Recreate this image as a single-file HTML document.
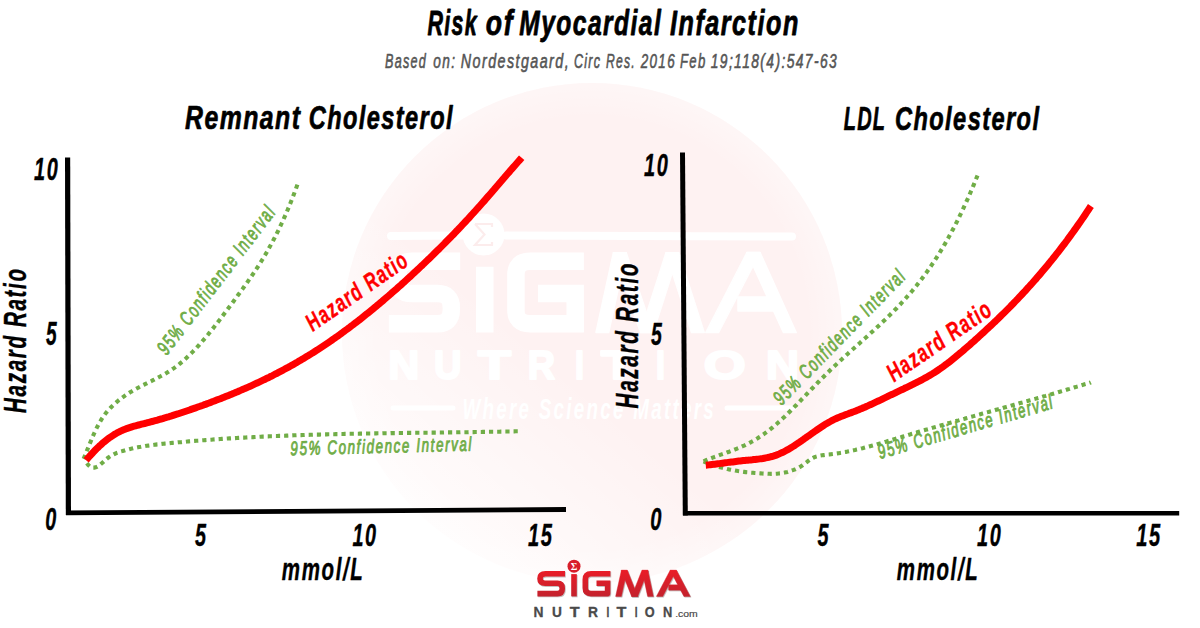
<!DOCTYPE html>
<html><head><meta charset="utf-8"><style>html,body{margin:0;padding:0;background:#fff;width:1200px;height:628px;overflow:hidden}svg{display:block}</style></head>
<body><svg width="1200" height="628" viewBox="0 0 1200 628" font-family='"Liberation Sans", sans-serif'><defs><linearGradient id="fadeLL" x1="0.12" y1="0.9" x2="0.42" y2="0.55"><stop offset="0" stop-color="#fff" stop-opacity="0.85"/><stop offset="0.5" stop-color="#fff" stop-opacity="0.45"/><stop offset="1" stop-color="#fff" stop-opacity="0"/></linearGradient><radialGradient id="edge" cx="0.5" cy="0.5" r="0.5"><stop offset="0.86" stop-color="#fff" stop-opacity="0"/><stop offset="1" stop-color="#fff" stop-opacity="0.35"/></radialGradient></defs>
<circle cx="592" cy="333" r="250" fill="#fef2f2"/>
<circle cx="592" cy="333" r="250" fill="url(#edge)"/>
<circle cx="592" cy="333" r="251" fill="url(#fadeLL)"/>
<path d="M391 236 L462 235.5 M506 235.5 L792 236.5" stroke="#fff" stroke-width="8" stroke-linecap="round" fill="none"/>
<path d="M393 408 L453 408 M727 408 L794 408" stroke="#fff" stroke-width="5" stroke-linecap="round" fill="none"/>
<g fill="none" stroke="#fff" stroke-width="17.5"><path d="M460.2 261.2 H412 Q397.8 261.2 397.8 275 V279.8 Q397.8 293.6 412 293.6 H437.5 Q451.3 293.6 451.3 307.5 V309.8 Q451.3 323.7 437.5 323.7 H388.9"/><path d="M484.75 266.8 V332.6"/><path d="M583.9 261.2 H530 Q515.9 261.2 515.9 275 V310 Q515.9 323.7 530 323.7 H575.2 V300 M583.9 293.6 H538"/></g>
<g fill="#fff" stroke="#fff" stroke-width="1.5" stroke-linejoin="round"><polygon points="596,332.4 613.4,252.7 626.2,252.7 608.7,332.4"/><polygon points="613.4,252.7 626.2,252.7 653.2,332.4 640.5,332.4"/><polygon points="640.5,332.4 653.2,332.4 678.7,252.7 666,252.7"/><polygon points="666,252.7 678.7,252.7 704.2,332.4 691.5,332.4"/><polygon points="705.8,332.6 747,252.4 760,252.4 718.5,332.6"/><polygon points="747,252.4 760,252.4 796.2,332.6 783.5,332.6"/><polygon points="738,297 776,297 776,311 738,311"/></g>
<circle cx="483.6" cy="234.5" r="21" fill="#fff"/>
<path d="M475 224 H492 L492 227 M475 224 L484.5 234.5 L475 245 H492 V242" stroke="#fcecec" stroke-width="2.2" fill="none"/>
<g transform="translate(388.30 378.60)"><text x="0" y="0" font-size="41.57" font-weight="bold" font-style="normal" fill="#ffffff" stroke="#ffffff" stroke-width="2.20" stroke-linejoin="round" textLength="31.0" lengthAdjust="spacingAndGlyphs">N</text></g>
<g transform="translate(434.00 378.60)"><text x="0" y="0" font-size="41.57" font-weight="bold" font-style="normal" fill="#ffffff" stroke="#ffffff" stroke-width="2.20" stroke-linejoin="round" textLength="27.5" lengthAdjust="spacingAndGlyphs">U</text></g>
<g transform="translate(478.00 378.60)"><text x="0" y="0" font-size="41.57" font-weight="bold" font-style="normal" fill="#ffffff" stroke="#ffffff" stroke-width="2.20" stroke-linejoin="round" textLength="33.0" lengthAdjust="spacingAndGlyphs">T</text></g>
<g transform="translate(527.70 378.60)"><text x="0" y="0" font-size="41.57" font-weight="bold" font-style="normal" fill="#ffffff" stroke="#ffffff" stroke-width="2.20" stroke-linejoin="round" textLength="27.3" lengthAdjust="spacingAndGlyphs">R</text></g>
<g transform="translate(575.00 378.60)"><text x="0" y="0" font-size="41.57" font-weight="bold" font-style="normal" fill="#ffffff" stroke="#ffffff" stroke-width="2.20" stroke-linejoin="round" textLength="9.0" lengthAdjust="spacingAndGlyphs">I</text></g>
<g transform="translate(601.00 378.60)"><text x="0" y="0" font-size="41.57" font-weight="bold" font-style="normal" fill="#ffffff" stroke="#ffffff" stroke-width="2.20" stroke-linejoin="round" textLength="34.7" lengthAdjust="spacingAndGlyphs">T</text></g>
<g transform="translate(656.00 378.60)"><text x="0" y="0" font-size="41.57" font-weight="bold" font-style="normal" fill="#ffffff" stroke="#ffffff" stroke-width="2.20" stroke-linejoin="round" textLength="9.0" lengthAdjust="spacingAndGlyphs">I</text></g>
<g transform="translate(703.70 378.60)"><text x="0" y="0" font-size="41.57" font-weight="bold" font-style="normal" fill="#ffffff" stroke="#ffffff" stroke-width="2.20" stroke-linejoin="round" textLength="42.0" lengthAdjust="spacingAndGlyphs">O</text></g>
<g transform="translate(766.00 378.60)"><text x="0" y="0" font-size="41.57" font-weight="bold" font-style="normal" fill="#ffffff" stroke="#ffffff" stroke-width="2.20" stroke-linejoin="round" textLength="33.0" lengthAdjust="spacingAndGlyphs">N</text></g>
<g transform="translate(462.50 418.80)"><text x="0" y="0" font-size="29.07" font-weight="bold" font-style="italic" fill="#ffffff" letter-spacing="3.49" textLength="253.5" lengthAdjust="spacingAndGlyphs">Where Science Matters</text></g>
<g transform="translate(427.50 35.00)"><text x="0" y="0" font-size="34.88" font-weight="bold" font-style="italic" fill="#000" stroke="#000" stroke-width="0.80" stroke-linejoin="round" letter-spacing="2.09" textLength="50.5" lengthAdjust="spacingAndGlyphs">Risk</text></g>
<g transform="translate(485.80 35.00)"><text x="0" y="0" font-size="34.88" font-weight="bold" font-style="italic" fill="#000" stroke="#000" stroke-width="0.80" stroke-linejoin="round" letter-spacing="2.09" textLength="28.3" lengthAdjust="spacingAndGlyphs">of</text></g>
<g transform="translate(519.20 35.00)"><text x="0" y="0" font-size="34.88" font-weight="bold" font-style="italic" fill="#000" stroke="#000" stroke-width="0.80" stroke-linejoin="round" letter-spacing="2.09" textLength="143.1" lengthAdjust="spacingAndGlyphs">Myocardial</text></g>
<g transform="translate(670.00 35.00)"><text x="0" y="0" font-size="34.88" font-weight="bold" font-style="italic" fill="#000" stroke="#000" stroke-width="0.80" stroke-linejoin="round" letter-spacing="2.09" textLength="129.8" lengthAdjust="spacingAndGlyphs">Infarction</text></g>
<g transform="translate(385.00 68.30)"><text x="0" y="0" font-size="19.91" font-weight="normal" font-style="italic" fill="#555555" stroke="#555555" stroke-width="0.60" stroke-linejoin="round" letter-spacing="1.99" textLength="42.1" lengthAdjust="spacingAndGlyphs">Based</text></g>
<g transform="translate(433.30 68.30)"><text x="0" y="0" font-size="19.91" font-weight="normal" font-style="italic" fill="#555555" stroke="#555555" stroke-width="0.60" stroke-linejoin="round" letter-spacing="1.99" textLength="23.1" lengthAdjust="spacingAndGlyphs">on:</text></g>
<g transform="translate(460.80 68.30)"><text x="0" y="0" font-size="19.91" font-weight="normal" font-style="italic" fill="#555555" stroke="#555555" stroke-width="0.60" stroke-linejoin="round" letter-spacing="1.99" textLength="109.3" lengthAdjust="spacingAndGlyphs">Nordestgaard,</text></g>
<g transform="translate(574.00 68.30)"><text x="0" y="0" font-size="19.91" font-weight="normal" font-style="italic" fill="#555555" stroke="#555555" stroke-width="0.60" stroke-linejoin="round" letter-spacing="1.99" textLength="27.3" lengthAdjust="spacingAndGlyphs">Circ</text></g>
<g transform="translate(606.00 68.30)"><text x="0" y="0" font-size="19.91" font-weight="normal" font-style="italic" fill="#555555" stroke="#555555" stroke-width="0.60" stroke-linejoin="round" letter-spacing="1.99" textLength="29.9" lengthAdjust="spacingAndGlyphs">Res.</text></g>
<g transform="translate(640.70 68.30)"><text x="0" y="0" font-size="19.91" font-weight="normal" font-style="italic" fill="#555555" stroke="#555555" stroke-width="0.60" stroke-linejoin="round" letter-spacing="1.99" textLength="35.3" lengthAdjust="spacingAndGlyphs">2016</text></g>
<g transform="translate(680.00 68.30)"><text x="0" y="0" font-size="19.91" font-weight="normal" font-style="italic" fill="#555555" stroke="#555555" stroke-width="0.60" stroke-linejoin="round" letter-spacing="1.99" textLength="26.6" lengthAdjust="spacingAndGlyphs">Feb</text></g>
<g transform="translate(710.70 68.30)"><text x="0" y="0" font-size="19.91" font-weight="normal" font-style="italic" fill="#555555" stroke="#555555" stroke-width="0.60" stroke-linejoin="round" letter-spacing="1.99" textLength="127.4" lengthAdjust="spacingAndGlyphs">19;118(4):547-63</text></g>
<g transform="translate(185.00 129.30)"><text x="0" y="0" font-size="33.43" font-weight="bold" font-style="italic" fill="#000" stroke="#000" stroke-width="0.70" stroke-linejoin="round" letter-spacing="2.01" textLength="116.5" lengthAdjust="spacingAndGlyphs">Remnant</text></g>
<g transform="translate(308.75 129.30)"><text x="0" y="0" font-size="33.43" font-weight="bold" font-style="italic" fill="#000" stroke="#000" stroke-width="0.70" stroke-linejoin="round" letter-spacing="2.01" textLength="145.2" lengthAdjust="spacingAndGlyphs">Cholesterol</text></g>
<g transform="translate(843.75 129.50)"><text x="0" y="0" font-size="33.43" font-weight="bold" font-style="italic" fill="#000" stroke="#000" stroke-width="0.70" stroke-linejoin="round" letter-spacing="2.01" textLength="42.4" lengthAdjust="spacingAndGlyphs">LDL</text></g>
<g transform="translate(895.00 129.50)"><text x="0" y="0" font-size="33.43" font-weight="bold" font-style="italic" fill="#000" stroke="#000" stroke-width="0.70" stroke-linejoin="round" letter-spacing="2.01" textLength="145.4" lengthAdjust="spacingAndGlyphs">Cholesterol</text></g>
<path d="M67.6 157.6 L68.4 515" stroke="#000" stroke-width="5.2" fill="none"/>
<path d="M66 512.9 L566 509.5" stroke="#000" stroke-width="4.8" fill="none"/>
<path d="M682.5 152.4 L685.3 515.6" stroke="#000" stroke-width="5" fill="none"/>
<path d="M683 513.3 L1179.2 513.3" stroke="#000" stroke-width="4.6" fill="none"/>
<g transform="translate(34.00 180.00)"><text x="0" y="0" font-size="31.98" font-weight="bold" font-style="italic" fill="#000" stroke="#000" stroke-width="0.40" stroke-linejoin="round" letter-spacing="2.56" textLength="25.3" lengthAdjust="spacingAndGlyphs">10</text></g>
<g transform="translate(45.90 345.30)"><text x="0" y="0" font-size="33.28" font-weight="bold" font-style="italic" fill="#000" stroke="#000" stroke-width="0.40" stroke-linejoin="round" letter-spacing="2.66" textLength="12.2" lengthAdjust="spacingAndGlyphs">5</text></g>
<g transform="translate(45.30 530.00)"><text x="0" y="0" font-size="31.98" font-weight="bold" font-style="italic" fill="#000" stroke="#000" stroke-width="0.40" stroke-linejoin="round" letter-spacing="2.56" textLength="12.6" lengthAdjust="spacingAndGlyphs">0</text></g>
<g transform="translate(195.00 546.20)"><text x="0" y="0" font-size="31.54" font-weight="bold" font-style="italic" fill="#000" stroke="#000" stroke-width="0.40" stroke-linejoin="round" letter-spacing="2.52" textLength="12.6" lengthAdjust="spacingAndGlyphs">5</text></g>
<g transform="translate(352.40 545.80)"><text x="0" y="0" font-size="30.96" font-weight="bold" font-style="italic" fill="#000" stroke="#000" stroke-width="0.40" stroke-linejoin="round" letter-spacing="2.48" textLength="25.2" lengthAdjust="spacingAndGlyphs">10</text></g>
<g transform="translate(528.00 546.00)"><text x="0" y="0" font-size="32.27" font-weight="bold" font-style="italic" fill="#000" stroke="#000" stroke-width="0.40" stroke-linejoin="round" letter-spacing="2.58" textLength="25.6" lengthAdjust="spacingAndGlyphs">15</text></g>
<g transform="translate(644.00 176.00)"><text x="0" y="0" font-size="31.54" font-weight="bold" font-style="italic" fill="#000" stroke="#000" stroke-width="0.40" stroke-linejoin="round" letter-spacing="2.52" textLength="25.4" lengthAdjust="spacingAndGlyphs">10</text></g>
<g transform="translate(651.00 344.80)"><text x="0" y="0" font-size="31.69" font-weight="bold" font-style="italic" fill="#000" stroke="#000" stroke-width="0.40" stroke-linejoin="round" letter-spacing="2.53" textLength="12.4" lengthAdjust="spacingAndGlyphs">5</text></g>
<g transform="translate(650.20 529.90)"><text x="0" y="0" font-size="31.83" font-weight="bold" font-style="italic" fill="#000" stroke="#000" stroke-width="0.40" stroke-linejoin="round" letter-spacing="2.55" textLength="12.8" lengthAdjust="spacingAndGlyphs">0</text></g>
<g transform="translate(817.40 546.20)"><text x="0" y="0" font-size="31.54" font-weight="bold" font-style="italic" fill="#000" stroke="#000" stroke-width="0.40" stroke-linejoin="round" letter-spacing="2.52" textLength="12.6" lengthAdjust="spacingAndGlyphs">5</text></g>
<g transform="translate(977.00 545.80)"><text x="0" y="0" font-size="30.96" font-weight="bold" font-style="italic" fill="#000" stroke="#000" stroke-width="0.40" stroke-linejoin="round" letter-spacing="2.48" textLength="25.3" lengthAdjust="spacingAndGlyphs">10</text></g>
<g transform="translate(1136.20 545.70)"><text x="0" y="0" font-size="31.54" font-weight="bold" font-style="italic" fill="#000" stroke="#000" stroke-width="0.40" stroke-linejoin="round" letter-spacing="2.52" textLength="25.6" lengthAdjust="spacingAndGlyphs">15</text></g>
<g transform="translate(281.80 579.60)"><text x="0" y="0" font-size="30.52" font-weight="bold" font-style="italic" fill="#000" stroke="#000" stroke-width="0.40" stroke-linejoin="round" letter-spacing="2.44" textLength="82.7" lengthAdjust="spacingAndGlyphs">mmol/L</text></g>
<g transform="translate(896.80 580.00)"><text x="0" y="0" font-size="30.52" font-weight="bold" font-style="italic" fill="#000" stroke="#000" stroke-width="0.40" stroke-linejoin="round" letter-spacing="2.44" textLength="82.6" lengthAdjust="spacingAndGlyphs">mmol/L</text></g>
<g transform="translate(26.00 412.90) rotate(-90.00)"><text x="0" y="0" font-size="31.98" font-weight="bold" font-style="italic" fill="#000" stroke="#000" stroke-width="0.40" stroke-linejoin="round" letter-spacing="2.56" textLength="145.6" lengthAdjust="spacingAndGlyphs">Hazard Ratio</text></g>
<g transform="translate(638.00 408.50) rotate(-90.00)"><text x="0" y="0" font-size="30.52" font-weight="bold" font-style="italic" fill="#000" stroke="#000" stroke-width="0.40" stroke-linejoin="round" letter-spacing="2.44" textLength="146.7" lengthAdjust="spacingAndGlyphs">Hazard Ratio</text></g>
<path d="M83.6 458.9 L85.1 455.3 L86.6 451.6 L88.1 447.8 L89.6 444.1 L91.1 440.5 L92.6 436.9 L94.1 433.5 L95.6 430.2 L97.1 427.2 L98.6 424.3 L100.1 421.7 L101.6 419.2 L103.1 416.9 L104.6 414.8 L106.1 412.8 L107.6 411.0 L109.1 409.3 L110.6 407.7 L112.1 406.2 L113.6 404.8 L115.1 403.4 L116.6 402.1 L118.1 400.8 L119.6 399.6 L121.1 398.5 L122.6 397.4 L124.1 396.3 L125.6 395.2 L127.1 394.2 L128.6 393.3 L130.1 392.3 L131.6 391.4 L133.1 390.5 L134.6 389.7 L136.1 388.8 L137.6 388.0 L139.1 387.2 L140.6 386.4 L142.1 385.6 L143.6 384.9 L145.1 384.1 L146.6 383.4 L148.1 382.6 L149.6 381.9 L151.1 381.2 L152.6 380.4 L154.1 379.7 L155.6 378.9 L157.1 378.1 L158.6 377.3 L160.1 376.5 L161.6 375.7 L163.1 374.9 L164.6 374.1 L166.1 373.2 L167.6 372.3 L169.1 371.3 L170.6 370.4 L172.1 369.4 L173.6 368.4 L175.1 367.3 L176.6 366.2 L178.1 365.1 L179.6 363.9 L181.1 362.6 L182.6 361.4 L184.1 360.1 L185.6 358.7 L187.1 357.3 L188.6 355.9 L190.1 354.4 L191.6 352.9 L193.1 351.4 L194.6 349.8 L196.1 348.2 L197.6 346.6 L199.1 345.0 L200.6 343.3 L202.1 341.6 L203.6 339.8 L205.1 338.1 L206.6 336.3 L208.1 334.5 L209.6 332.6 L211.1 330.8 L212.6 328.9 L214.1 327.0 L215.6 325.1 L217.1 323.2 L218.6 321.2 L220.1 319.3 L221.6 317.3 L223.1 315.3 L224.6 313.3 L226.1 311.3 L227.6 309.3 L229.1 307.3 L230.6 305.3 L232.1 303.2 L233.6 301.2 L235.1 299.1 L236.6 297.1 L238.1 295.0 L239.6 293.0 L241.1 290.9 L242.6 288.9 L244.1 286.8 L245.6 284.7 L247.1 282.6 L248.6 280.4 L250.1 278.3 L251.6 276.1 L253.1 273.9 L254.6 271.7 L256.1 269.4 L257.6 267.1 L259.1 264.8 L260.6 262.4 L262.1 260.0 L263.6 257.5 L265.1 255.0 L266.6 252.4 L268.1 249.8 L269.6 247.1 L271.1 244.4 L272.6 241.6 L274.1 238.8 L275.6 235.9 L277.1 232.9 L278.6 229.9 L280.1 226.7 L281.6 223.5 L283.1 220.3 L284.6 216.9 L286.1 213.5 L287.6 210.0 L289.1 206.4 L290.6 202.7 L292.1 198.9 L293.6 195.0 L295.1 191.0 L296.6 186.9 L298.1 182.8 L298.6 181.4" stroke="#70ad47" stroke-width="4.1" stroke-dasharray="4.2 4" fill="none"/>
<path d="M86.8 463.2 L88.3 465.1 L89.8 466.4 L91.3 467.2 L92.8 467.6 L94.3 467.6 L95.8 467.3 L97.3 466.7 L98.8 465.8 L100.3 464.6 L101.8 463.3 L103.3 461.9 L104.8 460.5 L106.3 459.2 L107.8 458.0 L109.3 456.9 L110.8 455.9 L112.3 455.1 L113.8 454.3 L115.3 453.6 L116.8 452.9 L118.3 452.4 L119.8 451.8 L121.3 451.4 L122.8 450.9 L124.3 450.5 L125.8 450.0 L127.3 449.6 L128.8 449.3 L130.3 448.9 L131.8 448.6 L133.3 448.2 L134.8 447.9 L136.3 447.6 L137.8 447.3 L139.3 447.0 L140.8 446.8 L142.3 446.5 L143.8 446.3 L145.3 446.0 L146.8 445.8 L148.3 445.6 L149.8 445.4 L151.3 445.2 L152.8 445.0 L154.3 444.8 L155.8 444.6 L157.3 444.4 L158.8 444.3 L160.3 444.1 L161.8 443.9 L163.3 443.8 L164.8 443.6 L166.3 443.5 L167.8 443.3 L169.3 443.2 L170.8 443.0 L172.3 442.9 L173.8 442.8 L175.3 442.6 L176.8 442.5 L178.3 442.3 L179.8 442.2 L181.3 442.1 L182.8 441.9 L184.3 441.8 L185.8 441.7 L187.3 441.5 L188.8 441.4 L190.3 441.3 L191.8 441.2 L193.3 441.0 L194.8 440.9 L196.3 440.8 L197.8 440.7 L199.3 440.6 L200.8 440.4 L202.3 440.3 L203.8 440.2 L205.3 440.1 L206.8 440.0 L208.3 439.9 L209.8 439.8 L211.3 439.7 L212.8 439.5 L214.3 439.4 L215.8 439.3 L217.3 439.2 L218.8 439.1 L220.3 439.0 L221.8 438.9 L223.3 438.8 L224.8 438.7 L226.3 438.6 L227.8 438.5 L229.3 438.4 L230.8 438.4 L232.3 438.3 L233.8 438.2 L235.3 438.1 L236.8 438.0 L238.3 437.9 L239.8 437.8 L241.3 437.7 L242.8 437.6 L244.3 437.6 L245.8 437.5 L247.3 437.4 L248.8 437.3 L250.3 437.2 L251.8 437.2 L253.3 437.1 L254.8 437.0 L256.3 436.9 L257.8 436.9 L259.3 436.8 L260.8 436.7 L262.3 436.6 L263.8 436.6 L265.3 436.5 L266.8 436.4 L268.3 436.4 L269.8 436.3 L271.3 436.2 L272.8 436.2 L274.3 436.1 L275.8 436.0 L277.3 436.0 L278.8 435.9 L280.3 435.9 L281.8 435.8 L283.3 435.7 L284.8 435.7 L286.3 435.6 L287.8 435.6 L289.3 435.5 L290.8 435.5 L292.3 435.4 L293.8 435.3 L295.3 435.3 L296.8 435.2 L298.3 435.2 L299.8 435.1 L301.3 435.1 L302.8 435.0 L304.3 435.0 L305.8 434.9 L307.3 434.9 L308.8 434.9 L310.3 434.8 L311.8 434.8 L313.3 434.7 L314.8 434.7 L316.3 434.6 L317.8 434.6 L319.3 434.6 L320.8 434.5 L322.3 434.5 L323.8 434.4 L325.3 434.4 L326.8 434.4 L328.3 434.3 L329.8 434.3 L331.3 434.2 L332.8 434.2 L334.3 434.2 L335.8 434.1 L337.3 434.1 L338.8 434.1 L340.3 434.0 L341.8 434.0 L343.3 434.0 L344.8 433.9 L346.3 433.9 L347.8 433.9 L349.3 433.8 L350.8 433.8 L352.3 433.8 L353.8 433.7 L355.3 433.7 L356.8 433.7 L358.3 433.7 L359.8 433.6 L361.3 433.6 L362.8 433.6 L364.3 433.6 L365.8 433.5 L367.3 433.5 L368.8 433.5 L370.3 433.5 L371.8 433.4 L373.3 433.4 L374.8 433.4 L376.3 433.4 L377.8 433.3 L379.3 433.3 L380.8 433.3 L382.3 433.3 L383.8 433.2 L385.3 433.2 L386.8 433.2 L388.3 433.2 L389.8 433.2 L391.3 433.1 L392.8 433.1 L394.3 433.1 L395.8 433.1 L397.3 433.0 L398.8 433.0 L400.3 433.0 L401.8 433.0 L403.3 433.0 L404.8 433.0 L406.3 432.9 L407.8 432.9 L409.3 432.9 L410.8 432.9 L412.3 432.9 L413.8 432.8 L415.3 432.8 L416.8 432.8 L418.3 432.8 L419.8 432.8 L421.3 432.7 L422.8 432.7 L424.3 432.7 L425.8 432.7 L427.3 432.7 L428.8 432.7 L430.3 432.6 L431.8 432.6 L433.3 432.6 L434.8 432.6 L436.3 432.6 L437.8 432.5 L439.3 432.5 L440.8 432.5 L442.3 432.5 L443.8 432.5 L445.3 432.4 L446.8 432.4 L448.3 432.4 L449.8 432.4 L451.3 432.4 L452.8 432.4 L454.3 432.3 L455.8 432.3 L457.3 432.3 L458.8 432.3 L460.3 432.3 L461.8 432.2 L463.3 432.2 L464.8 432.2 L466.3 432.2 L467.8 432.2 L469.3 432.1 L470.8 432.1 L472.3 432.1 L473.8 432.1 L475.3 432.0 L476.8 432.0 L478.3 432.0 L479.8 432.0 L481.3 432.0 L482.8 431.9 L484.3 431.9 L485.8 431.9 L487.3 431.9 L488.8 431.8 L490.3 431.8 L491.8 431.8 L493.3 431.8 L494.8 431.7 L496.3 431.7 L497.8 431.7 L499.3 431.7 L500.8 431.6 L502.3 431.6 L503.8 431.6 L505.3 431.5 L506.8 431.5 L508.3 431.5 L509.8 431.5 L511.3 431.4 L512.8 431.4 L514.3 431.4 L515.8 431.3 L517.3 431.3 L518.8 431.3" stroke="#70ad47" stroke-width="4.1" stroke-dasharray="4.2 4" fill="none"/>
<path d="M703.6 461.3 L705.1 460.6 L706.6 460.0 L708.1 459.4 L709.6 458.8 L711.1 458.3 L712.6 457.7 L714.1 457.1 L715.6 456.6 L717.1 456.0 L718.6 455.5 L720.1 454.9 L721.6 454.4 L723.1 453.9 L724.6 453.3 L726.1 452.8 L727.6 452.2 L729.1 451.7 L730.6 451.1 L732.1 450.6 L733.6 450.0 L735.1 449.4 L736.6 448.8 L738.1 448.2 L739.6 447.6 L741.1 446.9 L742.6 446.2 L744.1 445.6 L745.6 444.9 L747.1 444.1 L748.6 443.4 L750.1 442.6 L751.6 441.8 L753.1 441.0 L754.6 440.1 L756.1 439.2 L757.6 438.3 L759.1 437.3 L760.6 436.4 L762.1 435.3 L763.6 434.3 L765.1 433.2 L766.6 432.1 L768.1 431.0 L769.6 429.8 L771.1 428.6 L772.6 427.4 L774.1 426.1 L775.6 424.9 L777.1 423.6 L778.6 422.2 L780.1 420.9 L781.6 419.5 L783.1 418.1 L784.6 416.7 L786.1 415.2 L787.6 413.8 L789.1 412.3 L790.6 410.8 L792.1 409.3 L793.6 407.8 L795.1 406.2 L796.6 404.7 L798.1 403.1 L799.6 401.6 L801.1 400.0 L802.6 398.4 L804.1 396.9 L805.6 395.3 L807.1 393.7 L808.6 392.2 L810.1 390.6 L811.6 389.0 L813.1 387.5 L814.6 385.9 L816.1 384.4 L817.6 382.8 L819.1 381.3 L820.6 379.7 L822.1 378.2 L823.6 376.7 L825.1 375.2 L826.6 373.7 L828.1 372.3 L829.6 370.8 L831.1 369.3 L832.6 367.9 L834.1 366.5 L835.6 365.1 L837.1 363.6 L838.6 362.2 L840.1 360.8 L841.6 359.5 L843.1 358.1 L844.6 356.7 L846.1 355.3 L847.6 354.0 L849.1 352.6 L850.6 351.3 L852.1 349.9 L853.6 348.6 L855.1 347.2 L856.6 345.9 L858.1 344.5 L859.6 343.2 L861.1 341.8 L862.6 340.5 L864.1 339.1 L865.6 337.8 L867.1 336.4 L868.6 335.0 L870.1 333.7 L871.6 332.3 L873.1 330.9 L874.6 329.5 L876.1 328.2 L877.6 326.8 L879.1 325.4 L880.6 324.0 L882.1 322.5 L883.6 321.1 L885.1 319.7 L886.6 318.2 L888.1 316.7 L889.6 315.3 L891.1 313.8 L892.6 312.3 L894.1 310.7 L895.6 309.2 L897.1 307.7 L898.6 306.1 L900.1 304.5 L901.6 302.9 L903.1 301.2 L904.6 299.6 L906.1 297.9 L907.6 296.2 L909.1 294.5 L910.6 292.7 L912.1 291.0 L913.6 289.2 L915.1 287.3 L916.6 285.5 L918.1 283.6 L919.6 281.7 L921.1 279.7 L922.6 277.7 L924.1 275.7 L925.6 273.7 L927.1 271.6 L928.6 269.5 L930.1 267.3 L931.6 265.1 L933.1 262.9 L934.6 260.6 L936.1 258.3 L937.6 256.0 L939.1 253.6 L940.6 251.1 L942.1 248.6 L943.6 246.1 L945.1 243.6 L946.6 240.9 L948.1 238.3 L949.6 235.6 L951.1 232.8 L952.6 230.0 L954.1 227.2 L955.6 224.3 L957.1 221.3 L958.6 218.3 L960.1 215.2 L961.6 212.1 L963.1 208.9 L964.6 205.7 L966.1 202.4 L967.6 199.1 L969.1 195.7 L970.6 192.2 L972.1 188.7 L973.6 185.1 L975.1 181.4 L976.6 177.7 L978.1 174.0" stroke="#70ad47" stroke-width="4.1" stroke-dasharray="4.2 4" fill="none"/>
<path d="M703.6 461.3 L705.1 462.0 L706.6 462.6 L708.1 463.2 L709.6 463.7 L711.1 464.3 L712.6 464.8 L714.1 465.3 L715.6 465.8 L717.1 466.3 L718.6 466.8 L720.1 467.2 L721.6 467.6 L723.1 468.0 L724.6 468.4 L726.1 468.7 L727.6 469.1 L729.1 469.4 L730.6 469.7 L732.1 470.0 L733.6 470.3 L735.1 470.6 L736.6 470.8 L738.1 471.1 L739.6 471.3 L741.1 471.5 L742.6 471.7 L744.1 471.9 L745.6 472.1 L747.1 472.3 L748.6 472.4 L750.1 472.6 L751.6 472.7 L753.1 472.8 L754.6 473.0 L756.1 473.1 L757.6 473.2 L759.1 473.3 L760.6 473.4 L762.1 473.5 L763.6 473.6 L765.1 473.7 L766.6 473.7 L768.1 473.8 L769.6 473.8 L771.1 473.9 L772.6 473.9 L774.1 473.8 L775.6 473.8 L777.1 473.7 L778.6 473.5 L780.1 473.4 L781.6 473.2 L783.1 472.9 L784.6 472.6 L786.1 472.2 L787.6 471.9 L789.1 471.4 L790.6 470.9 L792.1 470.4 L793.6 469.9 L795.1 469.3 L796.6 468.6 L798.1 467.9 L799.6 467.1 L801.1 466.3 L802.6 465.3 L804.1 464.2 L805.6 463.0 L807.1 461.9 L808.6 460.7 L810.1 459.6 L811.6 458.7 L813.1 457.9 L814.6 457.2 L816.1 456.6 L817.6 456.2 L819.1 455.8 L820.6 455.5 L822.1 455.3 L823.6 455.1 L825.1 454.9 L826.6 454.7 L828.1 454.5 L829.6 454.4 L831.1 454.2 L832.6 454.0 L834.1 453.8 L835.6 453.6 L837.1 453.4 L838.6 453.2 L840.1 452.9 L841.6 452.7 L843.1 452.4 L844.6 452.1 L846.1 451.9 L847.6 451.6 L849.1 451.3 L850.6 451.0 L852.1 450.6 L853.6 450.3 L855.1 450.0 L856.6 449.6 L858.1 449.3 L859.6 448.9 L861.1 448.5 L862.6 448.2 L864.1 447.8 L865.6 447.4 L867.1 447.0 L868.6 446.6 L870.1 446.2 L871.6 445.8 L873.1 445.4 L874.6 445.0 L876.1 444.6 L877.6 444.1 L879.1 443.7 L880.6 443.3 L882.1 442.8 L883.6 442.4 L885.1 441.9 L886.6 441.5 L888.1 441.0 L889.6 440.6 L891.1 440.1 L892.6 439.7 L894.1 439.2 L895.6 438.8 L897.1 438.3 L898.6 437.9 L900.1 437.4 L901.6 437.0 L903.1 436.5 L904.6 436.1 L906.1 435.6 L907.6 435.2 L909.1 434.7 L910.6 434.3 L912.1 433.8 L913.6 433.4 L915.1 432.9 L916.6 432.5 L918.1 432.0 L919.6 431.6 L921.1 431.1 L922.6 430.7 L924.1 430.3 L925.6 429.8 L927.1 429.4 L928.6 429.0 L930.1 428.5 L931.6 428.1 L933.1 427.6 L934.6 427.2 L936.1 426.8 L937.6 426.3 L939.1 425.9 L940.6 425.5 L942.1 425.1 L943.6 424.6 L945.1 424.2 L946.6 423.8 L948.1 423.3 L949.6 422.9 L951.1 422.5 L952.6 422.1 L954.1 421.6 L955.6 421.2 L957.1 420.8 L958.6 420.4 L960.1 419.9 L961.6 419.5 L963.1 419.1 L964.6 418.7 L966.1 418.2 L967.6 417.8 L969.1 417.4 L970.6 417.0 L972.1 416.6 L973.6 416.1 L975.1 415.7 L976.6 415.3 L978.1 414.9 L979.6 414.5 L981.1 414.0 L982.6 413.6 L984.1 413.2 L985.6 412.8 L987.1 412.4 L988.6 411.9 L990.1 411.5 L991.6 411.1 L993.1 410.7 L994.6 410.3 L996.1 409.8 L997.6 409.4 L999.1 409.0 L1000.6 408.6 L1002.1 408.2 L1003.6 407.7 L1005.1 407.3 L1006.6 406.9 L1008.1 406.5 L1009.6 406.1 L1011.1 405.6 L1012.6 405.2 L1014.1 404.8 L1015.6 404.4 L1017.1 404.0 L1018.6 403.5 L1020.1 403.1 L1021.6 402.7 L1023.1 402.3 L1024.6 401.8 L1026.1 401.4 L1027.6 401.0 L1029.1 400.6 L1030.6 400.2 L1032.1 399.7 L1033.6 399.3 L1035.1 398.9 L1036.6 398.4 L1038.1 398.0 L1039.6 397.6 L1041.1 397.2 L1042.6 396.7 L1044.1 396.3 L1045.6 395.9 L1047.1 395.4 L1048.6 395.0 L1050.1 394.6 L1051.6 394.1 L1053.1 393.7 L1054.6 393.3 L1056.1 392.8 L1057.6 392.4 L1059.1 391.9 L1060.6 391.5 L1062.1 391.1 L1063.6 390.6 L1065.1 390.2 L1066.6 389.7 L1068.1 389.3 L1069.6 388.9 L1071.1 388.4 L1072.6 388.0 L1074.1 387.5 L1075.6 387.1 L1077.1 386.6 L1078.6 386.2 L1080.1 385.7 L1081.6 385.2 L1083.1 384.8 L1084.6 384.3 L1086.1 383.9 L1087.6 383.4 L1089.1 383.0 L1090.6 382.5 L1090.8 382.4" stroke="#70ad47" stroke-width="4.1" stroke-dasharray="4.2 4" fill="none"/>
<path d="M86.1 460.2 L87.6 458.5 L89.1 456.8 L90.6 455.1 L92.1 453.5 L93.6 451.9 L95.1 450.3 L96.6 448.8 L98.1 447.4 L99.6 445.9 L101.1 444.6 L102.6 443.2 L104.1 441.9 L105.6 440.7 L107.1 439.5 L108.6 438.4 L110.1 437.3 L111.6 436.3 L113.1 435.3 L114.6 434.3 L116.1 433.5 L117.6 432.6 L119.1 431.9 L120.6 431.1 L122.1 430.4 L123.6 429.8 L125.1 429.2 L126.6 428.6 L128.1 428.1 L129.6 427.6 L131.1 427.1 L132.6 426.6 L134.1 426.2 L135.6 425.8 L137.1 425.4 L138.6 425.0 L140.1 424.6 L141.6 424.2 L143.1 423.8 L144.6 423.5 L146.1 423.1 L147.6 422.7 L149.1 422.3 L150.6 421.9 L152.1 421.5 L153.6 421.1 L155.1 420.7 L156.6 420.3 L158.1 419.9 L159.6 419.4 L161.1 419.0 L162.6 418.6 L164.1 418.1 L165.6 417.7 L167.1 417.2 L168.6 416.8 L170.1 416.3 L171.6 415.9 L173.1 415.4 L174.6 414.9 L176.1 414.4 L177.6 414.0 L179.1 413.5 L180.6 413.0 L182.1 412.5 L183.6 412.0 L185.1 411.5 L186.6 411.0 L188.1 410.5 L189.6 410.0 L191.1 409.4 L192.6 408.9 L194.1 408.4 L195.6 407.9 L197.1 407.3 L198.6 406.8 L200.1 406.3 L201.6 405.7 L203.1 405.2 L204.6 404.6 L206.1 404.1 L207.6 403.5 L209.1 403.0 L210.6 402.4 L212.1 401.8 L213.6 401.3 L215.1 400.7 L216.6 400.1 L218.1 399.5 L219.6 399.0 L221.1 398.4 L222.6 397.8 L224.1 397.2 L225.6 396.6 L227.1 396.0 L228.6 395.4 L230.1 394.8 L231.6 394.2 L233.1 393.6 L234.6 392.9 L236.1 392.3 L237.6 391.7 L239.1 391.0 L240.6 390.4 L242.1 389.7 L243.6 389.1 L245.1 388.4 L246.6 387.8 L248.1 387.1 L249.6 386.5 L251.1 385.8 L252.6 385.1 L254.1 384.4 L255.6 383.7 L257.1 383.0 L258.6 382.3 L260.1 381.6 L261.6 380.9 L263.1 380.2 L264.6 379.5 L266.1 378.7 L267.6 378.0 L269.1 377.3 L270.6 376.5 L272.1 375.8 L273.6 375.0 L275.1 374.2 L276.6 373.5 L278.1 372.7 L279.6 371.9 L281.1 371.1 L282.6 370.3 L284.1 369.5 L285.6 368.7 L287.1 367.9 L288.6 367.1 L290.1 366.2 L291.6 365.4 L293.1 364.6 L294.6 363.7 L296.1 362.8 L297.6 362.0 L299.1 361.1 L300.6 360.2 L302.1 359.3 L303.6 358.4 L305.1 357.5 L306.6 356.6 L308.1 355.7 L309.6 354.8 L311.1 353.9 L312.6 352.9 L314.1 352.0 L315.6 351.0 L317.1 350.1 L318.6 349.1 L320.1 348.1 L321.6 347.1 L323.1 346.1 L324.6 345.1 L326.1 344.1 L327.6 343.1 L329.1 342.1 L330.6 341.0 L332.1 340.0 L333.6 339.0 L335.1 337.9 L336.6 336.8 L338.1 335.8 L339.6 334.7 L341.1 333.6 L342.6 332.5 L344.1 331.4 L345.6 330.3 L347.1 329.2 L348.6 328.1 L350.1 327.0 L351.6 325.8 L353.1 324.7 L354.6 323.5 L356.1 322.4 L357.6 321.2 L359.1 320.1 L360.6 318.9 L362.1 317.7 L363.6 316.5 L365.1 315.3 L366.6 314.1 L368.1 312.9 L369.6 311.7 L371.1 310.5 L372.6 309.3 L374.1 308.0 L375.6 306.8 L377.1 305.5 L378.6 304.3 L380.1 303.0 L381.6 301.8 L383.1 300.5 L384.6 299.2 L386.1 297.9 L387.6 296.6 L389.1 295.4 L390.6 294.0 L392.1 292.7 L393.6 291.4 L395.1 290.1 L396.6 288.8 L398.1 287.4 L399.6 286.1 L401.1 284.8 L402.6 283.4 L404.1 282.1 L405.6 280.7 L407.1 279.3 L408.6 278.0 L410.1 276.6 L411.6 275.2 L413.1 273.8 L414.6 272.4 L416.1 271.0 L417.6 269.6 L419.1 268.2 L420.6 266.8 L422.1 265.4 L423.6 263.9 L425.1 262.5 L426.6 261.1 L428.1 259.6 L429.6 258.2 L431.1 256.7 L432.6 255.3 L434.1 253.8 L435.6 252.3 L437.1 250.8 L438.6 249.4 L440.1 247.9 L441.6 246.4 L443.1 244.9 L444.6 243.4 L446.1 241.8 L447.6 240.3 L449.1 238.8 L450.6 237.3 L452.1 235.7 L453.6 234.2 L455.1 232.6 L456.6 231.0 L458.1 229.5 L459.6 227.9 L461.1 226.3 L462.6 224.7 L464.1 223.1 L465.6 221.5 L467.1 219.9 L468.6 218.3 L470.1 216.6 L471.6 215.0 L473.1 213.3 L474.6 211.7 L476.1 210.0 L477.6 208.3 L479.1 206.7 L480.6 205.0 L482.1 203.3 L483.6 201.6 L485.1 199.9 L486.6 198.1 L488.1 196.4 L489.6 194.7 L491.1 193.0 L492.6 191.2 L494.1 189.5 L495.6 187.7 L497.1 186.0 L498.6 184.3 L500.1 182.5 L501.6 180.8 L503.1 179.0 L504.6 177.3 L506.1 175.5 L507.6 173.8 L509.1 172.1 L510.6 170.3 L512.1 168.6 L513.6 166.9 L515.1 165.2 L516.6 163.5 L518.1 161.8 L519.6 160.1 L521.1 158.4 L521.7 157.7" stroke="#ff0000" stroke-width="7.0" fill="none"/>
<path d="M705.8 465.2 L707.3 465.1 L708.8 464.9 L710.3 464.7 L711.8 464.5 L713.3 464.3 L714.8 464.2 L716.3 464.0 L717.8 463.8 L719.3 463.6 L720.8 463.4 L722.3 463.2 L723.8 463.0 L725.3 462.8 L726.8 462.6 L728.3 462.4 L729.8 462.2 L731.3 462.0 L732.8 461.9 L734.3 461.7 L735.8 461.5 L737.3 461.3 L738.8 461.1 L740.3 461.0 L741.8 460.8 L743.3 460.6 L744.8 460.5 L746.3 460.3 L747.8 460.2 L749.3 460.1 L750.8 459.9 L752.3 459.8 L753.8 459.6 L755.3 459.5 L756.8 459.3 L758.3 459.1 L759.8 458.9 L761.3 458.7 L762.8 458.5 L764.3 458.2 L765.8 457.9 L767.3 457.6 L768.8 457.3 L770.3 456.9 L771.8 456.5 L773.3 456.1 L774.8 455.6 L776.3 455.1 L777.8 454.5 L779.3 453.9 L780.8 453.2 L782.3 452.5 L783.8 451.8 L785.3 451.0 L786.8 450.2 L788.3 449.4 L789.8 448.5 L791.3 447.6 L792.8 446.6 L794.3 445.7 L795.8 444.7 L797.3 443.7 L798.8 442.7 L800.3 441.6 L801.8 440.6 L803.3 439.5 L804.8 438.5 L806.3 437.4 L807.8 436.3 L809.3 435.3 L810.8 434.2 L812.3 433.1 L813.8 432.1 L815.3 431.0 L816.8 430.0 L818.3 429.0 L819.8 428.0 L821.3 427.0 L822.8 426.0 L824.3 425.0 L825.8 424.1 L827.3 423.2 L828.8 422.3 L830.3 421.5 L831.8 420.7 L833.3 419.9 L834.8 419.2 L836.3 418.5 L837.8 417.8 L839.3 417.2 L840.8 416.6 L842.3 416.0 L843.8 415.4 L845.3 414.8 L846.8 414.2 L848.3 413.7 L849.8 413.1 L851.3 412.6 L852.8 412.0 L854.3 411.5 L855.8 410.9 L857.3 410.3 L858.8 409.7 L860.3 409.1 L861.8 408.5 L863.3 407.8 L864.8 407.2 L866.3 406.5 L867.8 405.9 L869.3 405.2 L870.8 404.5 L872.3 403.8 L873.8 403.1 L875.3 402.4 L876.8 401.7 L878.3 401.0 L879.8 400.3 L881.3 399.6 L882.8 398.8 L884.3 398.1 L885.8 397.4 L887.3 396.7 L888.8 395.9 L890.3 395.2 L891.8 394.5 L893.3 393.8 L894.8 393.1 L896.3 392.3 L897.8 391.6 L899.3 390.9 L900.8 390.2 L902.3 389.5 L903.8 388.8 L905.3 388.0 L906.8 387.3 L908.3 386.6 L909.8 385.9 L911.3 385.1 L912.8 384.4 L914.3 383.6 L915.8 382.9 L917.3 382.1 L918.8 381.4 L920.3 380.6 L921.8 379.8 L923.3 379.0 L924.8 378.2 L926.3 377.4 L927.8 376.5 L929.3 375.7 L930.8 374.8 L932.3 373.9 L933.8 372.9 L935.3 372.0 L936.8 371.0 L938.3 370.0 L939.8 369.0 L941.3 367.9 L942.8 366.9 L944.3 365.8 L945.8 364.6 L947.3 363.5 L948.8 362.4 L950.3 361.2 L951.8 360.0 L953.3 358.8 L954.8 357.6 L956.3 356.3 L957.8 355.1 L959.3 353.8 L960.8 352.6 L962.3 351.3 L963.8 350.0 L965.3 348.7 L966.8 347.4 L968.3 346.1 L969.8 344.8 L971.3 343.4 L972.8 342.1 L974.3 340.8 L975.8 339.4 L977.3 338.1 L978.8 336.7 L980.3 335.3 L981.8 334.0 L983.3 332.6 L984.8 331.2 L986.3 329.8 L987.8 328.4 L989.3 327.0 L990.8 325.6 L992.3 324.2 L993.8 322.8 L995.3 321.4 L996.8 319.9 L998.3 318.5 L999.8 317.0 L1001.3 315.5 L1002.8 314.1 L1004.3 312.6 L1005.8 311.1 L1007.3 309.6 L1008.8 308.1 L1010.3 306.6 L1011.8 305.0 L1013.3 303.5 L1014.8 301.9 L1016.3 300.4 L1017.8 298.8 L1019.3 297.2 L1020.8 295.6 L1022.3 294.0 L1023.8 292.4 L1025.3 290.8 L1026.8 289.1 L1028.3 287.5 L1029.8 285.8 L1031.3 284.2 L1032.8 282.5 L1034.3 280.8 L1035.8 279.1 L1037.3 277.3 L1038.8 275.6 L1040.3 273.9 L1041.8 272.1 L1043.3 270.3 L1044.8 268.5 L1046.3 266.7 L1047.8 264.9 L1049.3 263.1 L1050.8 261.2 L1052.3 259.4 L1053.8 257.5 L1055.3 255.6 L1056.8 253.7 L1058.3 251.8 L1059.8 249.9 L1061.3 247.9 L1062.8 245.9 L1064.3 244.0 L1065.8 242.0 L1067.3 240.0 L1068.8 237.9 L1070.3 235.9 L1071.8 233.8 L1073.3 231.7 L1074.8 229.6 L1076.3 227.5 L1077.8 225.4 L1079.3 223.3 L1080.8 221.1 L1082.3 218.9 L1083.8 216.7 L1085.3 214.5 L1086.8 212.2 L1088.3 210.0 L1089.8 207.7 L1090.9 206.0" stroke="#ff0000" stroke-width="7.0" fill="none"/>
<g transform="translate(166.80 356.00) rotate(-52.60)"><text x="0" y="0" font-size="20.35" font-weight="normal" font-style="italic" fill="#70ad47" stroke="#70ad47" stroke-width="0.90" stroke-linejoin="round" letter-spacing="2.44" textLength="181.6" lengthAdjust="spacingAndGlyphs">95% Confidence Interval</text></g>
<g transform="translate(290.60 455.30) rotate(-1.50)"><text x="0" y="0" font-size="19.62" font-weight="normal" font-style="italic" fill="#70ad47" stroke="#70ad47" stroke-width="0.90" stroke-linejoin="round" letter-spacing="2.35" textLength="182.6" lengthAdjust="spacingAndGlyphs">95% Confidence Interval</text></g>
<g transform="translate(312.80 332.00) rotate(-34.80)"><text x="0" y="0" font-size="24.71" font-weight="bold" font-style="italic" fill="#ff0000" stroke="#ff0000" stroke-width="0.40" stroke-linejoin="round" letter-spacing="1.98" textLength="119.4" lengthAdjust="spacingAndGlyphs">Hazard Ratio</text></g>
<g transform="translate(781.60 406.00) rotate(-45.70)"><text x="0" y="0" font-size="20.35" font-weight="normal" font-style="italic" fill="#70ad47" stroke="#70ad47" stroke-width="0.90" stroke-linejoin="round" letter-spacing="2.44" textLength="180.1" lengthAdjust="spacingAndGlyphs">95% Confidence Interval</text></g>
<g transform="translate(880.00 459.00) rotate(-16.30)"><text x="0" y="0" font-size="20.35" font-weight="normal" font-style="italic" fill="#70ad47" stroke="#70ad47" stroke-width="0.90" stroke-linejoin="round" letter-spacing="2.44" textLength="182.6" lengthAdjust="spacingAndGlyphs">95% Confidence Interval</text></g>
<g transform="translate(893.90 382.40) rotate(-34.50)"><text x="0" y="0" font-size="25.44" font-weight="bold" font-style="italic" fill="#ff0000" stroke="#ff0000" stroke-width="0.40" stroke-linejoin="round" letter-spacing="2.03" textLength="122.2" lengthAdjust="spacingAndGlyphs">Hazard Ratio</text></g>
<defs><linearGradient id="lg" gradientUnits="userSpaceOnUse" x1="0" y1="570" x2="0" y2="597"><stop offset="0" stop-color="#ea1c27"/><stop offset="1" stop-color="#c3222d"/></linearGradient></defs>
<g fill="none" stroke-linejoin="round"><path d="M565 573.7 H545.5 Q540 573.7 540 578.5 Q540 583.2 545 583.2 H557.5 Q562.2 583.2 562.2 588 V589 Q562.2 593.6 557.5 593.6 H537.4" stroke="#5a4a4a" stroke-opacity="0.35" stroke-width="5.6" transform="translate(0.8 0.9)"/><path d="M574 574.1 V596.4" stroke="#5a4a4a" stroke-opacity="0.35" stroke-width="5.6" transform="translate(0.8 0.9)"/><path d="M610.4 573.7 H591 Q585.3 573.7 585.3 579.5 V588 Q585.3 593.6 591 593.6 H607.6 V585.8 M610.4 583.2 H596.5" stroke="#5a4a4a" stroke-opacity="0.35" stroke-width="5.6" transform="translate(0.8 0.9)"/><path d="M565 573.7 H545.5 Q540 573.7 540 578.5 Q540 583.2 545 583.2 H557.5 Q562.2 583.2 562.2 588 V589 Q562.2 593.6 557.5 593.6 H537.4" stroke="url(#lg)" stroke-width="5.6"/><path d="M574 574.1 V596.4" stroke="url(#lg)" stroke-width="5.6"/><path d="M610.4 573.7 H591 Q585.3 573.7 585.3 579.5 V588 Q585.3 593.6 591 593.6 H607.6 V585.8 M610.4 583.2 H596.5" stroke="url(#lg)" stroke-width="5.6"/></g>
<g stroke-linejoin="round" stroke-width="0.4"><polygon points="615.6,596.4 621.4,596.4 627.2,570.3 621.4,570.3" fill="#5a4a4a" stroke="#5a4a4a" fill-opacity="0.35" stroke-opacity="0.35" transform="translate(0.8 0.9)"/><polygon points="621.2,570.3 627.4,570.3 637.8,596.4 631.6,596.4" fill="#5a4a4a" stroke="#5a4a4a" fill-opacity="0.35" stroke-opacity="0.35" transform="translate(0.8 0.9)"/><polygon points="631.6,596.4 637.8,596.4 648.1,570.3 641.9,570.3" fill="#5a4a4a" stroke="#5a4a4a" fill-opacity="0.35" stroke-opacity="0.35" transform="translate(0.8 0.9)"/><polygon points="642.1,570.3 647.9,570.3 653.4,596.4 647.6,596.4" fill="#5a4a4a" stroke="#5a4a4a" fill-opacity="0.35" stroke-opacity="0.35" transform="translate(0.8 0.9)"/><polygon points="656.4,596.4 662.8,596.4 676.5,570.3 670.1,570.3" fill="#5a4a4a" stroke="#5a4a4a" fill-opacity="0.35" stroke-opacity="0.35" transform="translate(0.8 0.9)"/><polygon points="670.1,570.3 676.5,570.3 690.3,596.4 683.9,596.4" fill="#5a4a4a" stroke="#5a4a4a" fill-opacity="0.35" stroke-opacity="0.35" transform="translate(0.8 0.9)"/><polygon points="668.6,584.8 681.5,584.8 681.5,590.2 668.6,590.2" fill="#5a4a4a" stroke="#5a4a4a" fill-opacity="0.35" stroke-opacity="0.35" transform="translate(0.8 0.9)"/><polygon points="615.6,596.4 621.4,596.4 627.2,570.3 621.4,570.3" fill="url(#lg)" stroke="url(#lg)"/><polygon points="621.2,570.3 627.4,570.3 637.8,596.4 631.6,596.4" fill="url(#lg)" stroke="url(#lg)"/><polygon points="631.6,596.4 637.8,596.4 648.1,570.3 641.9,570.3" fill="url(#lg)" stroke="url(#lg)"/><polygon points="642.1,570.3 647.9,570.3 653.4,596.4 647.6,596.4" fill="url(#lg)" stroke="url(#lg)"/><polygon points="656.4,596.4 662.8,596.4 676.5,570.3 670.1,570.3" fill="url(#lg)" stroke="url(#lg)"/><polygon points="670.1,570.3 676.5,570.3 690.3,596.4 683.9,596.4" fill="url(#lg)" stroke="url(#lg)"/><polygon points="668.6,584.8 681.5,584.8 681.5,590.2 668.6,590.2" fill="url(#lg)" stroke="url(#lg)"/></g>
<circle cx="574" cy="566.2" r="6.5" fill="#d81e2a"/>
<text x="574" y="569.9" font-size="10" font-weight="bold" font-family="Liberation Serif" fill="#fff" text-anchor="middle">&#931;</text>
<g transform="translate(533.50 616.70)"><text x="0" y="0" font-size="13.95" font-weight="bold" font-style="normal" fill="#4a4a4a" stroke="#4a4a4a" stroke-width="0.30" stroke-linejoin="round" textLength="10.0" lengthAdjust="spacingAndGlyphs">N</text></g>
<g transform="translate(552.00 616.70)"><text x="0" y="0" font-size="13.95" font-weight="bold" font-style="normal" fill="#4a4a4a" stroke="#4a4a4a" stroke-width="0.30" stroke-linejoin="round" textLength="9.9" lengthAdjust="spacingAndGlyphs">U</text></g>
<g transform="translate(569.70 616.70)"><text x="0" y="0" font-size="13.95" font-weight="bold" font-style="normal" fill="#4a4a4a" stroke="#4a4a4a" stroke-width="0.30" stroke-linejoin="round" textLength="9.9" lengthAdjust="spacingAndGlyphs">T</text></g>
<g transform="translate(588.00 616.70)"><text x="0" y="0" font-size="13.95" font-weight="bold" font-style="normal" fill="#4a4a4a" stroke="#4a4a4a" stroke-width="0.30" stroke-linejoin="round" textLength="10.0" lengthAdjust="spacingAndGlyphs">R</text></g>
<g transform="translate(606.50 616.70)"><text x="0" y="0" font-size="13.95" font-weight="bold" font-style="normal" fill="#4a4a4a" stroke="#4a4a4a" stroke-width="0.30" stroke-linejoin="round" textLength="2.8" lengthAdjust="spacingAndGlyphs">I</text></g>
<g transform="translate(616.40 616.70)"><text x="0" y="0" font-size="13.95" font-weight="bold" font-style="normal" fill="#4a4a4a" stroke="#4a4a4a" stroke-width="0.30" stroke-linejoin="round" textLength="9.9" lengthAdjust="spacingAndGlyphs">T</text></g>
<g transform="translate(634.80 616.70)"><text x="0" y="0" font-size="13.95" font-weight="bold" font-style="normal" fill="#4a4a4a" stroke="#4a4a4a" stroke-width="0.30" stroke-linejoin="round" textLength="2.8" lengthAdjust="spacingAndGlyphs">I</text></g>
<g transform="translate(644.70 616.70)"><text x="0" y="0" font-size="13.95" font-weight="bold" font-style="normal" fill="#4a4a4a" stroke="#4a4a4a" stroke-width="0.30" stroke-linejoin="round" textLength="9.9" lengthAdjust="spacingAndGlyphs">O</text></g>
<g transform="translate(663.00 616.70)"><text x="0" y="0" font-size="13.95" font-weight="bold" font-style="normal" fill="#4a4a4a" stroke="#4a4a4a" stroke-width="0.30" stroke-linejoin="round" textLength="9.3" lengthAdjust="spacingAndGlyphs">N</text></g>
<g transform="translate(675.20 616.70)"><text x="0" y="0" font-size="9.59" font-weight="normal" font-style="normal" fill="#4a4a4a" stroke="#4a4a4a" stroke-width="0.20" stroke-linejoin="round" textLength="22.6" lengthAdjust="spacingAndGlyphs">.com</text></g></svg></body></html>
